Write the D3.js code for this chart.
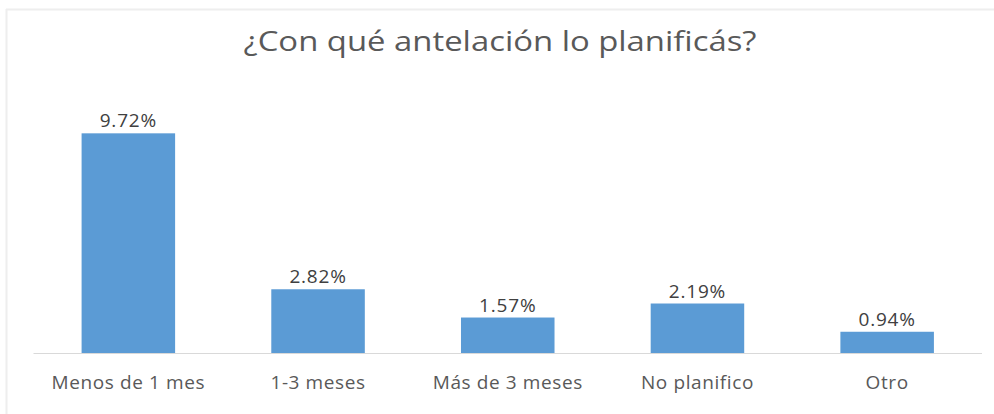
<!DOCTYPE html>
<html>
<head>
<meta charset="utf-8">
<script src="https://cdn.jsdelivr.net/npm/d3@7"></script>
<style>
  body { margin: 0; background: #fff; }
  svg { display: block; }
</style>
</head>
<body>
<svg width="994" height="414"></svg>
<script>
const categories = ["Menos de 1 mes", "1-3 meses", "Más de 3 meses", "No planifico", "Otro"];
const values = [9.72, 2.82, 1.57, 2.19, 0.94];
const valueLabels = ["9.72%", "2.82%", "1.57%", "2.19%", "0.94%"];

const svg = d3.select("svg");
const font = "'Open Sans', sans-serif";

// faint frame (top + left edges)
svg.append("line").attr("x1", 6).attr("x2", 994).attr("y1", 9.5).attr("y2", 9.5)
  .attr("stroke", "#eeeeee").attr("stroke-width", 2);
svg.append("line").attr("x1", 6.5).attr("x2", 6.5).attr("y1", 9).attr("y2", 414)
  .attr("stroke", "#eeeeee").attr("stroke-width", 2);

svg.append("text")
  .attr("x", 500)
  .attr("y", 51)
  .attr("text-anchor", "middle")
  .style("font-family", font)
  .style("font-size", "27px")
  .style("fill", "#595959")
  .attr("textLength", 513)
  .attr("lengthAdjust", "spacingAndGlyphs")
  .text("¿Con qué antelación lo planificás?");

const x = d3.scaleBand()
  .domain(categories)
  .range([33.5, 982])
  .paddingInner(0.507)
  .paddingOuter(0.2535);

const y = d3.scaleLinear()
  .domain([0, 12])
  .range([353, 81.8]);

const data = categories.map((c, i) => ({ cat: c, val: values[i], label: valueLabels[i] }));

svg.selectAll("rect.bar")
  .data(data)
  .join("rect")
  .attr("class", "bar")
  .attr("x", d => x(d.cat))
  .attr("y", d => y(d.val))
  .attr("width", x.bandwidth())
  .attr("height", d => y(0) - y(d.val))
  .attr("fill", "#5b9bd5");

// baseline
svg.append("line")
  .attr("x1", 33.5).attr("x2", 982)
  .attr("y1", y(0) + 0.5).attr("y2", y(0) + 0.5)
  .attr("stroke", "#d9d9d9").attr("stroke-width", 1);

// category labels
const xAxis = svg.append("g")
  .attr("transform", `translate(0,${y(0)})`)
  .call(d3.axisBottom(x).tickSize(0));
xAxis.select(".domain").remove();
xAxis.selectAll("text")
  .attr("y", 36)
  .attr("dy", 0)
  .style("font-family", font)
  .style("font-size", "19px")
  .style("letter-spacing", "0.6px")
  .style("fill", "#595959");

// value labels
svg.selectAll("text.val")
  .data(data)
  .join("text")
  .attr("class", "val")
  .attr("x", d => x(d.cat) + x.bandwidth() / 2)
  .attr("y", d => y(d.val) - 6)
  .attr("text-anchor", "middle")
  .style("font-family", font)
  .style("font-size", "19px")
  .style("letter-spacing", "0.8px")
  .style("fill", "#404040")
  .text(d => d.label);
</script>
</body>
</html>
